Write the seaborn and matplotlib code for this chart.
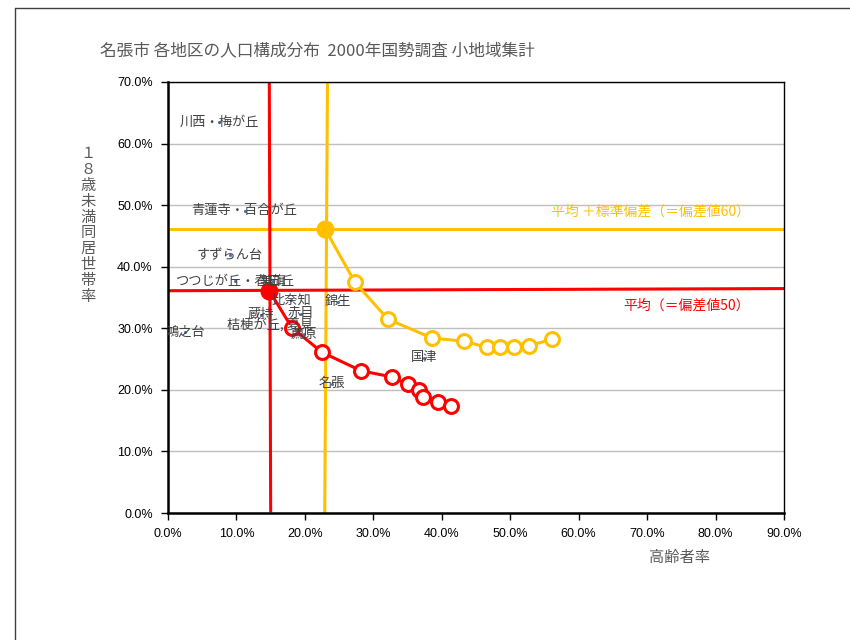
import matplotlib
matplotlib.use("Agg")
import matplotlib.pyplot as plt
from matplotlib.lines import Line2D
from matplotlib.ticker import FuncFormatter
import seaborn as sns

# ---- data (percent) ----
red_x = [14.8, 18.1, 22.5, 28.2, 32.7, 35.0, 36.7, 37.2, 39.5, 41.3]
red_y = [36.1, 30.1, 26.1, 23.1, 22.1, 20.9, 19.9, 18.9, 18.0, 17.4]
orange_x = [22.9, 27.3, 32.1, 38.6, 43.3, 46.6, 48.5, 50.5, 52.8, 56.1]
orange_y = [46.2, 37.5, 31.5, 28.4, 27.9, 26.9, 26.9, 26.9, 27.2, 28.2]

red_h_x = [0, 90]
red_h_y = [36.1, 36.45]
red_v_x = [14.8, 15.0]
red_v_y = [70, 0.3]
orange_h_x = [0, 90]
orange_h_y = [46.2, 46.2]
orange_v_x = [23.3, 22.9]
orange_v_y = [70, 0]

area_names = ["川西・梅が丘", "青蓮寺・百合が丘", "すずらん台", "つつじが丘・春日丘", "美旗",
              "比奈知", "錦生", "蔵持", "赤目", "桔梗が丘, 夏見", "薦原", "鴻之台", "国津", "名張"]
area_x = [7.45, 11.2, 9.0, 9.8, 15.3, 18.0, 24.8, 13.6, 19.4, 14.9, 19.8, 2.5, 37.4, 24.0]
area_y = [63.5, 49.1, 41.9, 37.6, 37.7, 34.6, 34.3, 32.2, 32.4, 30.5, 29.0, 29.4, 25.2, 21.0]

x_ticks = [0, 10, 20, 30, 40, 50, 60, 70, 80, 90]
y_ticks = [0, 10, 20, 30, 40, 50, 60, 70]

title = "名張市 各地区の人口構成分布  2000年国勢調査 小地域集計"
x_label = "高齢者率"
y_label = "１８歳未満同居世帯率"
note_60 = "平均 ＋標準偏差（＝偏差値60）"
note_50 = "平均（＝偏差値50）"

RED = "#FF0000"
ORANGE = "#FFC000"
TXT = "#595959"

sns.set_theme(style="white")
plt.rcParams['font.family'] = ['Noto Sans CJK JP', 'DejaVu Sans']

fig = plt.figure(figsize=(8.5, 6.4), dpi=100)
ax = fig.add_axes([168/850, 1-513/640, 616/850, 431/640])

# gridlines
ax.yaxis.grid(True, color="#BFBFBF", linewidth=1.0)
ax.set_axisbelow(True)

# reference lines
for lx, ly, c in [(orange_v_x, orange_v_y, ORANGE), (orange_h_x, orange_h_y, ORANGE),
                  (red_v_x, red_v_y, RED), (red_h_x, red_h_y, RED)]:
    sns.lineplot(x=lx, y=ly, sort=False, estimator=None, color=c, linewidth=2.2, ax=ax, zorder=2)

# series lines
sns.lineplot(x=orange_x, y=orange_y, sort=False, estimator=None, color=ORANGE, linewidth=2.2, ax=ax, zorder=3)
sns.lineplot(x=red_x, y=red_y, sort=False, estimator=None, color=RED, linewidth=2.2, ax=ax, zorder=3)

# open circle markers
ax.plot(orange_x[1:], orange_y[1:], linestyle="none", marker="o", markersize=10,
        markerfacecolor="white", markeredgecolor=ORANGE, markeredgewidth=2.2, zorder=4)
ax.plot(red_x[1:], red_y[1:], linestyle="none", marker="o", markersize=10,
        markerfacecolor="white", markeredgecolor=RED, markeredgewidth=2.2, zorder=4)
# filled mean points
ax.plot(orange_x[:1], orange_y[:1], linestyle="none", marker="o", markersize=12,
        color=ORANGE, zorder=5)
ax.plot(red_x[:1], red_y[:1], linestyle="none", marker="o", markersize=12,
        color=RED, zorder=5)

# area points + labels
sns.scatterplot(x=area_x, y=area_y, color="#4472C4", s=5, linewidth=0, ax=ax, zorder=6)
for n, x, y in zip(area_names, area_x, area_y):
    ax.text(x, y, n, ha="center", va="center", fontsize=9.5, color="#404040", zorder=7)

ax.text(85.0, 48.9, note_60, ha="right", va="center", fontsize=10, color=ORANGE)
ax.text(85.0, 33.6, note_50, ha="right", va="center", fontsize=10, color=RED)

ax.set_xlim(0, 90)
ax.set_ylim(0, 70)
ax.set_xticks(x_ticks)
ax.set_yticks(y_ticks)
fmt = FuncFormatter(lambda v, p: f"{v:.1f}%")
ax.xaxis.set_major_formatter(fmt)
ax.yaxis.set_major_formatter(fmt)
ax.tick_params(axis="both", which="major", direction="out", length=5, width=1,
               color="black", labelsize=9, labelcolor="black", pad=6)
ax.tick_params(axis="x", bottom=True)
ax.tick_params(axis="y", left=True)
for lab in ax.get_xticklabels() + ax.get_yticklabels():
    lab.set_family(["Liberation Sans", "DejaVu Sans"])

for side in ["left", "bottom"]:
    ax.spines[side].set_color("black")
    ax.spines[side].set_linewidth(1.8)
for side in ["top", "right"]:
    ax.spines[side].set_color("black")
    ax.spines[side].set_linewidth(1.0)
ax.set_xlabel("")
ax.set_ylabel("")

# axis titles
ax.text(0.831, -0.104, x_label, transform=ax.transAxes, ha="center", va="center",
        fontsize=11, color=TXT)
fig.text(88/850, 1-225/640, "\n".join(y_label), ha="center", va="center",
         fontsize=11, color=TXT, linespacing=0.92)

fig.text(317/850, 1-51/640, title, ha="center", va="center", fontsize=12, color=TXT)

# chart-area frame
fig.add_artist(Line2D([15/850, 1.0], [1-8/640, 1-8/640], color="#404040", linewidth=1.0,
                      transform=fig.transFigure))
fig.add_artist(Line2D([15/850, 15/850], [0, 1-8/640], color="#404040", linewidth=1.0,
                      transform=fig.transFigure))

fig.savefig("out.png", dpi=100)
